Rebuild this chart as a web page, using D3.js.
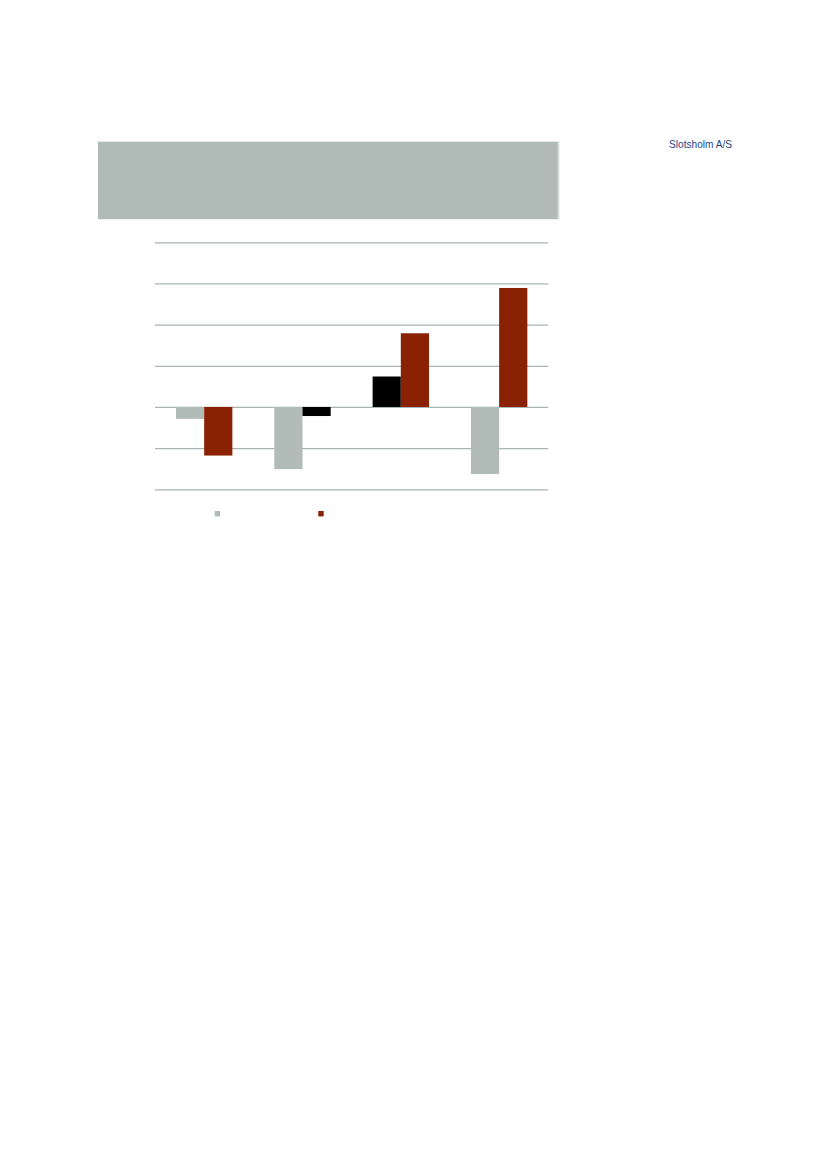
<!DOCTYPE html>
<html>
<head>
<meta charset="utf-8">
<script src="https://cdn.jsdelivr.net/npm/d3@7"></script>
<style>
  body { margin: 0; background: #fff; }
  svg { display: block; }
</style>
</head>
<body>
<div id="chart"></div>
<script>
// chart data (in gridline units)
var categories = ["A", "B", "C", "D"];
var seriesNames = ["Serie 1", "Serie 2"];
var series1 = [-0.29, -1.51, 0.74, -1.63];
var series2 = [-1.18, -0.22, 1.79, 2.89];
// some single points are coloured black in the original
var series1Colors = ["#b1bcb9", "#b1bcb9", "#000000", "#b1bcb9"];
var series2Colors = ["#8a2103", "#000000", "#8a2103", "#8a2103"];
var yTicks = [-2, -1, 0, 1, 2, 3, 4];

var svgWidth = 826;
var svgHeight = 1169;

var margin = { top: 242.3, left: 155, right: 826 - 548.3, bottom: 1169 - 489.3 };
var width = svgWidth - margin.left - margin.right;
var height = svgHeight - margin.top - margin.bottom;

var svg = d3.select("#chart")
    .append("svg")
    .attr("width", svgWidth)
    .attr("height", svgHeight);

// grey header band + company name
svg.append("rect")
    .attr("x", 98)
    .attr("y", 141.7)
    .attr("width", 461)
    .attr("height", 77.5)
    .attr("fill", "#b0bbb8");
svg.append("rect")
    .attr("x", 557.5)
    .attr("y", 141.7)
    .attr("width", 1.8)
    .attr("height", 77.5)
    .attr("fill", "#d3dad8");

svg.append("text")
    .attr("x", 669)
    .attr("y", 148)
    .attr("font-family", "'Liberation Sans Narrow', 'Liberation Sans', Arial, sans-serif")
    .attr("font-size", "11.5px")
    .attr("textLength", 63)
    .attr("lengthAdjust", "spacingAndGlyphs")
    .attr("fill", "#1d4585")
    .text("Slotsholm A/S");

var chartGroup = svg.append("g")
    .attr("transform", `translate(${margin.left}, ${margin.top})`);

var xScale = d3.scaleBand()
    .domain(categories)
    .range([0, width]);

var barWidth = 28.2;
var xInner = d3.scaleBand()
    .domain(seriesNames)
    .range([xScale.bandwidth() / 2 - barWidth, xScale.bandwidth() / 2 + barWidth]);

var yScale = d3.scaleLinear()
    .domain([-2, 4])
    .range([height, 0]);

// gridlines through the axis generator, no labels
var leftAxis = d3.axisLeft(yScale)
    .tickValues(yTicks)
    .tickSize(-width)
    .tickFormat("");

var grid = chartGroup.append("g").call(leftAxis);
grid.select(".domain").remove();
grid.selectAll(".tick line")
    .attr("stroke", "#a9b5b2")
    .attr("stroke-width", 1.2);

var rows = categories.map(function (c, i) {
    return [
        { cat: c, name: seriesNames[0], value: series1[i], color: series1Colors[i] },
        { cat: c, name: seriesNames[1], value: series2[i], color: series2Colors[i] }
    ];
});

var groups = chartGroup.selectAll(".group")
    .data(rows)
    .enter()
    .append("g")
    .attr("transform", d => `translate(${xScale(d[0].cat)}, 0)`);

groups.selectAll("rect")
    .data(d => d)
    .enter()
    .append("rect")
    .attr("x", d => xInner(d.name))
    .attr("width", xInner.bandwidth())
    .attr("y", d => yScale(Math.max(0, d.value)))
    .attr("height", d => Math.abs(yScale(d.value) - yScale(0)))
    .attr("fill", d => d.color);

// legend (only the markers show in the original)
var legendColors = ["#b1bcb9", "#8a2103"];
var legendX = [214.7, 318.3];
var legend = svg.append("g");
legend.selectAll("rect")
    .data(seriesNames)
    .enter()
    .append("rect")
    .attr("x", (d, i) => legendX[i])
    .attr("y", 511)
    .attr("width", 5.4)
    .attr("height", 5.4)
    .attr("fill", (d, i) => legendColors[i]);
</script>
</body>
</html>
